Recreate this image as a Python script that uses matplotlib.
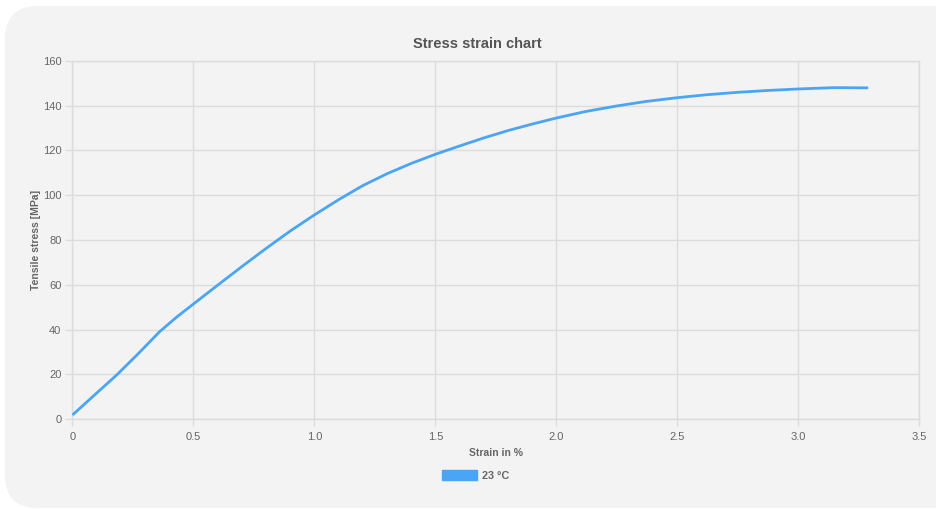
import matplotlib
matplotlib.use("Agg")
import matplotlib.pyplot as plt
import matplotlib.patches as mpatches

plt.rcParams["font.family"] = ["Liberation Sans", "DejaVu Sans"]

# data
strain = [0, 0.1, 0.183, 0.27, 0.36, 0.43, 0.5, 0.6, 0.7, 0.8, 0.9, 1.0, 1.1, 1.2,
          1.3, 1.4, 1.5, 1.6, 1.7, 1.8, 1.9, 2.0, 2.12, 2.25, 2.37, 2.5, 2.62,
          2.75, 2.87, 3.0, 3.15, 3.29]
stress = [1.8, 11.6, 19.7, 29.0, 39.0, 45.5, 51.4, 59.8, 68.1, 76.2, 84.0, 91.2, 98.0, 104.3,
          109.6, 114.2, 118.3, 122.0, 125.6, 128.9, 131.8, 134.5, 137.4, 139.9, 141.9, 143.6, 144.9,
          146.0, 146.8, 147.5, 148.1, 148.0]
series_label = "23 °C"
x_ticks = [0, 0.5, 1.0, 1.5, 2.0, 2.5, 3.0, 3.5]
x_tick_labels = ["0", "0.5", "1.0", "1.5", "2.0", "2.5", "3.0", "3.5"]
y_ticks = [0, 20, 40, 60, 80, 100, 120, 140, 160]

W, H = 937, 509
LINE = "#4aa5f5"
GRID = "#dcdcdc"
TXT = "#666666"

fig = plt.figure(figsize=(W / 100, H / 100), dpi=100)
fig.patch.set_facecolor("white")

# rounded background panel
panel = mpatches.FancyBboxPatch(
    (5 / W, 1 - 508 / H), 960 / W, 502 / H,
    boxstyle="round,pad=0,rounding_size=0.035",
    transform=fig.transFigure, facecolor="#f3f3f3", edgecolor="none",
    mutation_aspect=W / H, zorder=-10,
)
fig.patches.append(panel)

ax = fig.add_axes([72.5 / W, 1 - 419 / H, (919 - 72.5) / W, (419 - 61) / H])
ax.set_facecolor("none")

ax.plot(strain, stress, color=LINE, linewidth=2.0, solid_joinstyle="round",
        solid_capstyle="butt", zorder=3)

ax.set_xlim(0, 3.5)
ax.set_ylim(0, 160)
ax.set_xticks(x_ticks)
ax.set_xticklabels(x_tick_labels)
ax.set_yticks(y_ticks)

ax.grid(True, color=GRID, linewidth=1.0)
for s in ax.spines.values():
    s.set_color(GRID)
    s.set_linewidth(1.0)
ax.tick_params(axis="both", colors=GRID, length=5, width=1.0, labelsize=8, labelcolor=TXT)
ax.tick_params(axis="x", pad=4)
ax.tick_params(axis="y", pad=3)

ax.set_xlabel("Strain in %", fontsize=7.5, fontweight="bold", color=TXT, labelpad=4.5)
ax.set_ylabel("Tensile stress [MPa]", fontsize=7.5, fontweight="bold", color=TXT, labelpad=1)

fig.text(477 / W, 1 - 44 / H, "Stress strain chart", ha="center", va="center",
         fontsize=10.5, fontweight="bold", color="#555555")

handle = mpatches.Patch(facecolor=LINE, edgecolor=LINE, label=series_label)
fig.legend(handles=[handle], loc="center", bbox_to_anchor=(476 / W, 1 - 475.5 / H),
           frameon=False, prop={"size": 7.8, "weight": "bold"}, labelcolor=TXT,
           handlelength=3.2, handleheight=1.1, handletextpad=0.5)

fig.savefig("out.png", dpi=100, facecolor="white")
plt.close(fig)
